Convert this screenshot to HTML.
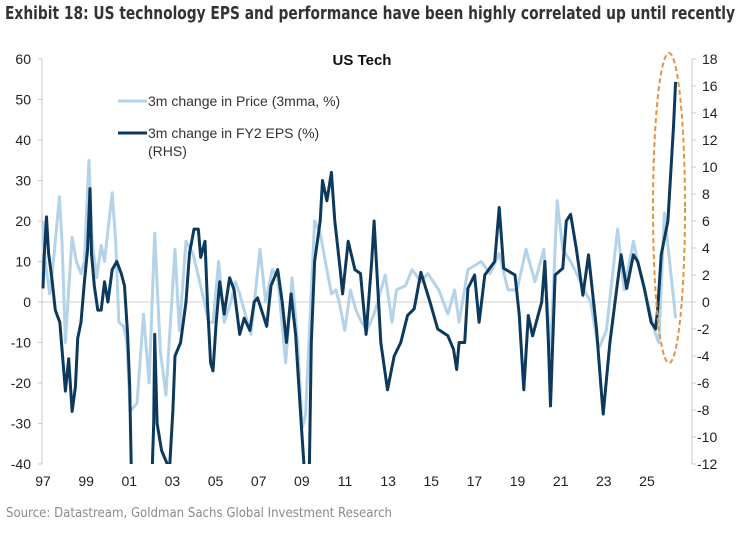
<!DOCTYPE html>
<html><head><meta charset="utf-8"><style>
body{margin:0;background:#fff;width:740px;height:531px;overflow:hidden;font-family:"Liberation Sans",sans-serif}
</style></head><body>
<svg id="chart" width="740" height="531" xmlns="http://www.w3.org/2000/svg" style="font-family:'Liberation Sans',sans-serif">
<text x="5" y="19" font-size="17.5" font-weight="bold" fill="#333" font-family="'DejaVu Sans',sans-serif" textLength="730" lengthAdjust="spacingAndGlyphs">Exhibit 18: US technology EPS and performance have been highly correlated up until recently</text>
<text x="362" y="65" font-size="15" font-weight="bold" fill="#111" text-anchor="middle">US Tech</text>
<g id="axes"></g>
<defs><clipPath id="plotclip"><rect x="40" y="45" width="655" height="419"/></clipPath></defs>
<g id="series" clip-path="url(#plotclip)"></g>
<ellipse cx="669" cy="208" rx="16" ry="155" fill="none" stroke="#e0954b" stroke-width="2" stroke-dasharray="5,3"/>
<g>
<line x1="118" y1="101" x2="147" y2="101" stroke="#b4d3e8" stroke-width="3"/>
<text x="148" y="106" font-size="14" fill="#333">3m change in Price (3mma, %)</text>
<line x1="118" y1="133" x2="147" y2="133" stroke="#0d3a5c" stroke-width="3"/>
<text x="148" y="138" font-size="14" fill="#333">3m change in FY2 EPS (%)</text>
<text x="148" y="156" font-size="14" fill="#333">(RHS)</text>
</g>
<text x="6" y="517" font-size="13.5" fill="#8a8a8a" font-family="'DejaVu Sans',sans-serif" textLength="386" lengthAdjust="spacingAndGlyphs">Source: Datastream, Goldman Sachs Global Investment Research</text>
</svg>
<script>
const xTickLabels=["97","99","01","03","05","07","09","11","13","15","17","19","21","23","25"];
const xTickYears=[1997,1999,2001,2003,2005,2007,2009,2011,2013,2015,2017,2019,2021,2023,2025];
const leftTicks=[60,50,40,30,20,10,0,-10,-20,-30,-40];
const rightTicks=[18,16,14,12,10,8,6,4,2,0,-2,-4,-6,-8,-10,-12];
const priceDates=[1997.0,1997.1,1997.31,1997.52,1997.76,1997.88,1998.04,1998.35,1998.55,1998.76,1998.92,1999.13,1999.28,1999.49,1999.7,1999.85,2000.21,2000.37,2000.52,2000.73,2000.89,2001.04,2001.36,2001.66,2001.92,2002.18,2002.44,2002.7,2003.12,2003.32,2003.63,2003.95,2004.31,2004.68,2004.88,2005.14,2005.4,2005.71,2005.92,2006.12,2006.64,2007.06,2007.32,2007.63,2007.88,2008.25,2008.55,2008.81,2009.02,2009.17,2009.59,2009.85,2010.16,2010.37,2010.58,2010.73,2010.99,2011.25,2011.51,2011.77,2012.02,2012.35,2012.87,2013.18,2013.39,2013.8,2014.11,2014.52,2014.84,2015.35,2015.77,2016.08,2016.29,2016.7,2017.32,2017.73,2018.15,2018.56,2018.98,2019.39,2019.81,2020.22,2020.53,2020.84,2021.1,2021.46,2021.77,2022.08,2022.39,2022.7,2022.81,2023.12,2023.64,2023.95,2024.37,2024.57,2024.88,2025.4,2025.55,2025.81,2026.33];
const priceValues=[20,10,2,12,26,15,-10,16,10,7,10,35,15,6,14,10,27,15,-5,-6,-10,-27,-25,-3,-20,17,-12,-23,13,-7,15,12,4,-5,-5,10,-5,0,5,2,-8,13,0,8,6,-15,6,-10,-31,-28,20,17,8,2,3,0,-7,3,-2,-5,-7,-3,6.7,-5,3,4,8,5,7,3,-3,3,-5,8,10,7,12,3,3,13,5,13,-13,25,13,10,6.7,3,0,-10,-11,-7,18,3,15,10,3,-8,-10,22,-4];
const epsDates=[1997.0,1997.05,1997.16,1997.26,1997.41,1997.57,1997.78,1997.93,1998.04,1998.19,1998.35,1998.5,1998.61,1998.76,1998.92,1999.07,1999.18,1999.25,1999.38,1999.54,1999.7,1999.85,2000.01,2000.21,2000.42,2000.63,2000.78,2000.92,2001.02,2001.09,2001.25,2001.66,2002.03,2002.13,2002.18,2002.29,2002.5,2002.76,2002.81,2003.02,2003.12,2003.38,2003.63,2003.79,2004.0,2004.2,2004.31,2004.51,2004.62,2004.77,2004.88,2005.03,2005.19,2005.4,2005.65,2005.86,2006.12,2006.33,2006.59,2006.79,2006.95,2007.37,2007.57,2007.88,2008.09,2008.29,2008.5,2008.71,2008.97,2009.18,2009.33,2009.44,2009.59,2009.85,2009.96,2010.16,2010.37,2010.53,2010.78,2010.89,2011.15,2011.46,2011.72,2011.98,2012.24,2012.35,2012.66,2012.97,2013.28,2013.59,2013.9,2014.21,2014.52,2014.94,2015.3,2015.77,2016.03,2016.18,2016.29,2016.55,2016.7,2017.01,2017.22,2017.48,2017.94,2018.15,2018.36,2018.88,2019.08,2019.29,2019.5,2019.7,2020.12,2020.27,2020.43,2020.53,2020.74,2021.1,2021.26,2021.46,2021.72,2022.03,2022.29,2022.66,2022.88,2022.97,2023.28,2023.64,2023.8,2024.06,2024.37,2024.57,2024.88,2025.19,2025.4,2025.5,2025.66,2025.97,2026.12,2026.23,2026.33];
const epsValues=[1,3.3,6.3,3.6,1.8,-0.6,-1.5,-4.5,-6.6,-4.2,-8.1,-6.3,-2.7,-1.5,1.5,3.9,8.4,3.6,1.2,-0.6,-0.6,1.5,0,2.4,3,2.1,1.2,-2.4,-6.3,-12,-14,-14,-14,-9,-2.4,-9,-11,-12,-14,-8,-4,-3,0,3.6,5.4,5.4,3.3,4.5,0,-4.5,-5.1,-1.5,1.5,-0.9,1.8,0.9,-2.4,-1.2,-2.1,0,0.3,-1.8,1.2,2.4,0,-3,0.6,-2.4,-9,-14,-14,-3,3,6,9,7.5,9.6,6,2.4,0.6,4.5,2.4,2.1,-2.4,3,6,-3,-6.5,-4,-3,-1,-0.5,2.2,0,-2,-2.5,-3.5,-5,-3,-3,1,2,-1.5,2,3,7,2.5,2,-1,-6.5,-1,-2.5,0,3,-3,-7.7,2,2.5,6,6.5,4,0.5,3.5,-2,-6.5,-8.3,-3,1.5,3.5,1,3.5,3,1,-1.5,-2,-0.5,3.5,6,10,13,16.3];

const NS="http://www.w3.org/2000/svg";
function x(t){return 43+(t-1997)*21.57;}
function yL(v){return 302-v*4.05;}
function yR(v){return 302-v*13.5;}
function mk(tag,attrs,parent){const e=document.createElementNS(NS,tag);for(const k in attrs)e.setAttribute(k,attrs[k]);parent.appendChild(e);return e;}
const axes=document.getElementById('axes');
const series=document.getElementById('series');

const zl=mk('line',{x1:42,x2:692,y1:yL(0),y2:yL(0),stroke:'#d0d0d0','stroke-width':1},axes);


const la=mk('line',{x1:42,x2:42,y1:yL(60),y2:yL(-40),stroke:'#c8c8c8','stroke-width':1},axes);


const ra=mk('line',{x1:692,x2:692,y1:yR(18),y2:yR(-12),stroke:'#c8c8c8','stroke-width':1},axes);


leftTicks.forEach(v=>{
  const tk=mk('line',{x1:38,x2:42,y1:yL(v),y2:yL(v),stroke:'#c8c8c8'},axes);
  
  
  const t=mk('text',{x:31,y:yL(v)+5,'font-size':14,fill:'#222','text-anchor':'end'},axes);
  t.textContent=v;
  
  
});
rightTicks.forEach(v=>{
  const tk=mk('line',{x1:692,x2:696,y1:yR(v),y2:yR(v),stroke:'#c8c8c8'},axes);
  
  
  const t=mk('text',{x:v<0?697:702,y:yR(v)+5,'font-size':14,fill:'#222'},axes);
  t.textContent=v;
  
  
});
xTickYears.forEach((yr,i)=>{
  const t=mk('text',{x:x(yr),y:486,'font-size':14,fill:'#222','text-anchor':'middle'},axes);
  t.textContent=xTickLabels[i];
  
  
});
const pp=mk('polyline',{points:priceDates.map((d,i)=>x(d).toFixed(1)+','+yL(priceValues[i]).toFixed(1)).join(' '),fill:'none',stroke:'#b4d3e8','stroke-width':3,'stroke-linejoin':'round'},series);


const ep=mk('polyline',{points:epsDates.map((d,i)=>x(d).toFixed(1)+','+yR(epsValues[i]).toFixed(1)).join(' '),fill:'none',stroke:'#0d3a5c','stroke-width':3,'stroke-linejoin':'round'},series);


</script>
</body></html>
